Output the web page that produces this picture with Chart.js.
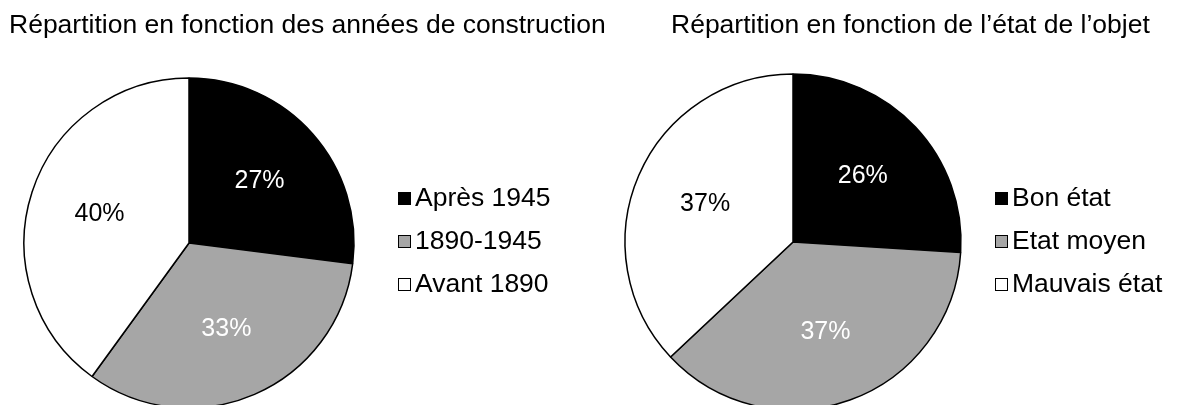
<!DOCTYPE html>
<html>
<head>
  <meta charset="utf-8">
  <title>Répartition</title>
  <script src="https://cdn.jsdelivr.net/npm/chart.js"></script>
  <style>
    html, body { margin: 0; padding: 0; background: #fff; overflow: hidden; width: 1181px; height: 405px; }
    .panel { position: absolute; top: 0; height: 520px; }
    #left { left: 0; width: 620px; }
    #right { left: 600px; width: 581px; }
  </style>
</head>
<body>
  <div class="panel" id="left"><canvas id="chartYears"></canvas></div>
  <div class="panel" id="right"><canvas id="chartState"></canvas></div>
  <script>
    const yearLabels = ['Après 1945', '1890-1945', 'Avant 1890'];
    const yearValues = [27, 33, 40];
    const stateLabels = ['Bon état', 'Etat moyen', 'Mauvais état'];
    const stateValues = [26, 37, 37];

    const sliceColors = ['#000000', '#a6a6a6', '#ffffff'];
    const textOnSlice = ['#ffffff', '#ffffff', '#000000'];
    const FONT = "'Liberation Sans', Arial, sans-serif";

    // percentages written inside each slice
    const pctLabels = {
      id: 'pctLabels',
      afterDatasetsDraw(chart) {
        const ctx = chart.ctx;
        const data = chart.data.datasets[0].data;
        ctx.save();
        ctx.font = '25px ' + FONT;
        ctx.textAlign = 'center';
        ctx.textBaseline = 'middle';
        chart.getDatasetMeta(0).data.forEach((arc, i) => {
          const p = arc.getProps(['x', 'y', 'startAngle', 'endAngle', 'outerRadius'], true);
          const mid = (p.startAngle + p.endAngle) / 2;
          const r = p.outerRadius * 0.57;
          ctx.fillStyle = textOnSlice[i];
          ctx.fillText(data[i] + '%', p.x + Math.cos(mid) * r, p.y + Math.sin(mid) * r);
        });
        ctx.restore();
      }
    };

    // title + small square legend, like the office one
    // (the built-in title squeezes text to the chart area width)
    const sideLegend = {
      id: 'sideLegend',
      afterDraw(chart, args, opts) {
        const ctx = chart.ctx;
        const ds = chart.data.datasets[0];
        ctx.save();
        ctx.fillStyle = '#000';
        ctx.font = '26.5px ' + FONT;
        ctx.textBaseline = 'alphabetic';
        ctx.fillText(opts.title, opts.titleX, opts.titleY);

        ctx.textBaseline = 'middle';
        chart.data.labels.forEach((lab, i) => {
          const y = opts.y + i * opts.step;
          ctx.fillStyle = ds.backgroundColor[i];
          ctx.fillRect(opts.x, y - 7, 13, 13);
          ctx.strokeStyle = '#000';
          ctx.lineWidth = 1;
          ctx.strokeRect(opts.x + 0.5, y - 6.5, 12, 12);
          ctx.fillStyle = '#000';
          ctx.fillText(lab, opts.x + 17, y);
        });
        ctx.restore();
      }
    };

    function makePie(id, labels, values, radius, pad, legendOpts) {
      return new Chart(document.getElementById(id), {
        type: 'pie',
        data: {
          labels: labels,
          datasets: [{
            data: values,
            backgroundColor: sliceColors,
            borderColor: '#000',
            borderWidth: 1.5,
            radius: radius,
            clip: false
          }]
        },
        options: {
          responsive: true,
          maintainAspectRatio: false,
          animation: false,
          layout: { padding: pad },
          plugins: {
            legend: { display: false },
            tooltip: { enabled: false },
            sideLegend: legendOpts
          }
        },
        plugins: [pctLabels, sideLegend]
      });
    }

    makePie('chartYears', yearLabels, yearValues, 165,
      { left: 8, right: 250, top: 39.4, bottom: 73.4 },
      { title: 'Répartition en fonction des années de construction', titleX: 9, titleY: 33,
        x: 398, y: 199, step: 43 });

    makePie('chartState', stateLabels, stateValues, 168,
      { left: 70, right: 265, top: 39.4, bottom: 75.4 },
      { title: 'Répartition en fonction de l\u2019état de l\u2019objet', titleX: 71, titleY: 33,
        x: 395, y: 199, step: 43 });
  </script>
</body>
</html>
